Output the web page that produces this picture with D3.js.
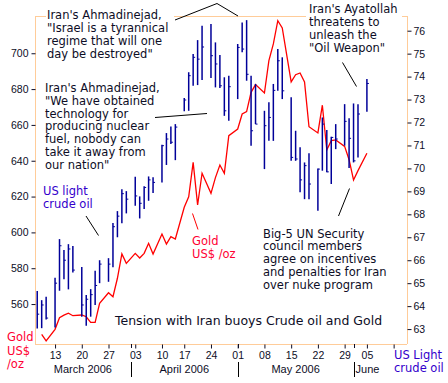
<!DOCTYPE html>
<html>
<head>
<meta charset="utf-8">
<script src="https://cdnjs.cloudflare.com/ajax/libs/d3/7.8.5/d3.min.js"></script>
<style>
  body { margin: 0; background: #fff; }
  svg { display: block; }
</style>
</head>
<body>
<div id="chart"></div>
<script>
// Trading days shown on the chart
const tradeDates = [
  '2006-03-08','2006-03-09','2006-03-10',
  '2006-03-13','2006-03-14','2006-03-15','2006-03-16','2006-03-17',
  '2006-03-20','2006-03-21','2006-03-22','2006-03-23','2006-03-24',
  '2006-03-27','2006-03-28','2006-03-29','2006-03-30','2006-03-31',
  '2006-04-03','2006-04-04','2006-04-05','2006-04-06','2006-04-07',
  '2006-04-10','2006-04-11','2006-04-12','2006-04-13',
  '2006-04-17','2006-04-18','2006-04-19','2006-04-20','2006-04-21',
  '2006-04-24','2006-04-25','2006-04-26','2006-04-27','2006-04-28',
  '2006-05-01','2006-05-02','2006-05-03','2006-05-04','2006-05-05',
  '2006-05-08','2006-05-09','2006-05-10','2006-05-11','2006-05-12',
  '2006-05-15','2006-05-16','2006-05-17','2006-05-18','2006-05-19',
  '2006-05-22','2006-05-23','2006-05-24','2006-05-25','2006-05-26',
  '2006-05-30','2006-05-31','2006-06-01','2006-06-02','2006-06-05'
];
const holidays = ['2006-04-14', '2006-05-29'];

// US light crude oil, high / low / close
const oilHigh = [64.66,64.26,64.41, 65.24,66.92,66.44,66.70,66.62, 65.71,64.48,64.74,65.54,66.00,
  66.09,67.62,68.14,69.09,69.01, 69.64,68.78,69.22,69.65,69.61, 71.03,71.54,71.83,71.93,
  73.07,74.19,74.98,75.59,76.22, 76.29,75.49,74.94,73.97,74.04, 75.42,76.36,76.46,74.04,73.68,
  72.51,72.88,73.68,75.20,74.84, 73.10,71.64,70.92,70.26,70.66, 70.00,72.22,71.67,71.38,71.93,
  72.80,72.19,72.83,72.80,73.89];
const oilLow = [63.03,63.04,63.42, 63.07,64.67,65.17,64.73,65.47, 63.54,63.14,63.54,64.05,65.00,
  65.06,65.69,67.00,67.61,68.04, 68.37,67.82,68.23,68.59,68.93, 69.39,70.15,71.06,70.36,
  72.49,72.51,73.60,73.63,73.85, 73.94,73.53,73.50,72.29,72.08, 73.02,75.06,73.82,70.99,71.93,
  69.97,71.20,71.20,73.38,73.02, 70.33,70.33,68.96,68.66,68.66, 68.15,69.90,69.83,69.32,70.84,
  70.99,70.02,70.26,70.48,72.47];
const oilClose = [63.65,64.05,63.48, 65.00,66.63,66.00,66.49,65.57, 64.05,64.30,64.50,64.90,65.83,
  65.83,67.46,67.92,68.90,68.66, 68.80,68.48,69.17,69.50,69.39, 70.99,71.28,71.14,71.80,
  72.98,74.04,74.84,74.76,75.29, 74.91,74.55,73.60,72.51,73.56, 75.27,75.20,74.10,71.64,71.93,
  71.86,72.22,73.40,74.69,73.38, 70.48,70.41,69.50,70.12,69.32, 69.97,71.93,69.85,71.35,71.28,
  72.05,71.31,70.33,72.37,73.70];

// Gold US$/oz, from 9 March
const goldDates = tradeDates.slice(1);
const goldPrice = [543.1,539.4, 545.9,552.4,553.8,554.9,553.5, 553.9,552.9,549.8,549.8,560.4,
  566.3,564.1,574.4,588.0,582.7, 588.3,585.7,588.3,593.9,587.9, 599.1,593.5,597.6,596.3,
  614.0,619.9,639.1,615.3,633.0, 621.8,630.6,637.6,633.0,654.0, 657.7,666.1,667.4,678.2,682.5,
  677.8,695.9,705.2,718.2,714.1, 684.0,688.0,689.0,684.0,659.0, 655.5,671.0,646.0,651.2,651.6,
  648.0,640.6,629.3,634.5,644.2];

const goldTicks = [560, 580, 600, 620, 640, 660, 680, 700];
const oilTicks = [63, 64, 65, 66, 67, 68, 69, 70, 71, 72, 73, 74, 75, 76];
const weekTicks = ['2006-03-13','2006-03-20','2006-03-27','2006-04-03','2006-04-10','2006-04-17',
  '2006-04-24','2006-05-01','2006-05-08','2006-05-15','2006-05-22','2006-05-29','2006-06-05','2006-06-12'];
const monthStarts = ['2006-04-01', '2006-05-01', '2006-06-01'];
const monthLabels = ['March 2006', 'April 2006', 'May 2006', 'June'];

const width = 448, height = 383;
const plotL = 35, plotR = 407, plotT = 16, plotB = 344;
const parse = d3.timeParse('%Y-%m-%d');
const fmt = d3.timeFormat('%Y-%m-%d');

// one slot per weekday plus one per Saturday, holidays dropped
const slotOf = {};
let n = 0;
for (let d = parse('2006-03-08'); d <= parse('2006-06-17'); d = d3.timeDay.offset(d, 1)) {
  const k = fmt(d);
  if (d.getDay() === 0 || holidays.includes(k)) continue;
  slotOf[k] = n++;
}
// a holiday Monday takes the next slot
const slot = k => {
  let d = parse(k);
  while (slotOf[fmt(d)] === undefined) d = d3.timeDay.offset(d, 1);
  return slotOf[fmt(d)];
};

const x = d3.scaleLinear().domain([-0.5, 83]).range([plotL, plotR]);
const yGold = d3.scaleLinear().domain([537.7, 720.8]).range([plotB, plotT]);
const yOil = d3.scaleLinear().domain([62.35, 76.64]).range([plotB, plotT]);

const svg = d3.select('#chart').append('svg')
  .attr('width', width)
  .attr('height', height)
  .style('font-family', 'DejaVu Sans, Verdana, sans-serif');

svg.append('rect').attr('width', width).attr('height', height).attr('fill', '#fff');

const frame = '#FFCC99';
const ink = '#0d0d26';

// top frame line
svg.append('line').attr('x1', plotL).attr('x2', plotR).attr('y1', plotT + 0.5).attr('y2', plotT + 0.5)
  .attr('stroke', frame);

// left axis (gold)
const axL = svg.append('g').attr('transform', `translate(${plotL + 0.5},0)`)
  .call(d3.axisLeft(yGold).tickValues(goldTicks).tickSize(4).tickPadding(3));
// right axis (oil)
const axR = svg.append('g').attr('transform', `translate(${plotR + 0.5},0)`)
  .call(d3.axisRight(yOil).tickValues(oilTicks).tickSize(4).tickPadding(2));
// bottom axis
const axB = svg.append('g').attr('transform', `translate(0,${plotB + 0.5})`)
  .call(d3.axisBottom(x)
    .tickValues(weekTicks.map(slot))
    .tickSize(4).tickPadding(3)
    .tickFormat((d, i) => weekTicks[i] === '2006-06-12' ? '' : d3.timeFormat('%d')(parse(weekTicks[i]))));

[axL, axR, axB].forEach(g => {
  g.select('.domain').attr('stroke', frame);
  g.selectAll('.tick line').attr('stroke', ink);
  g.selectAll('.tick text').attr('fill', ink)
    .style('font-family', 'Liberation Sans, Arial, sans-serif').style('font-size', '10.5px');
});
axL.select('.domain').attr('d', `M0,${plotT}V${plotB}`);
axR.select('.domain').attr('d', `M0,${plotT}V${plotB}`);
axB.select('.domain').attr('d', `M${plotL},0H${plotR}`);

// month separators on the axis and below it
monthStarts.forEach(k => {
  const px = Math.round(x(slot(k))) + 0.5;
  svg.append('line').attr('x1', px).attr('x2', px).attr('y1', plotB).attr('y2', plotB + 4).attr('stroke', ink);
  svg.append('line').attr('x1', px).attr('x2', px).attr('y1', 362).attr('y2', 377).attr('stroke', '#000');
});
const monthEdges = [plotL, ...monthStarts.map(k => x(slot(k))), plotR];
svg.append('g').selectAll('text').data(monthLabels).enter().append('text')
  .attr('x', (d, i) => i < 3 ? (monthEdges[i] + monthEdges[i + 1]) / 2 : monthEdges[i] + 2)
  .attr('y', 373)
  .attr('text-anchor', (d, i) => i < 3 ? 'middle' : 'start')
  .style('font-family', 'Liberation Sans, Arial, sans-serif')
  .style('font-size', '11px')
  .attr('fill', ink)
  .text(d => d);

// annotation blocks (white boxes hide the frame behind them)
function block(lines, x0, y0, step, color, box) {
  if (box) {
    svg.append('rect').attr('x', box[0]).attr('y', box[1]).attr('width', box[2]).attr('height', box[3])
      .attr('fill', '#fff');
  }
  const t = svg.append('text').attr('fill', color).style('font-size', '11.5px');
  lines.forEach((s, i) => t.append('tspan').attr('x', x0).attr('y', y0 + i * step).text(s));
}
block(["Iran's Ahmadinejad,", '"Israel is a tyrannical', 'regime that will one', 'day be destroyed"'],
  47, 19, 13, ink, [46, 8, 128, 54]);
block(["Iran's Ahmadinejad,", '"We have obtained', 'technology for', 'producing nuclear',
  'fuel, nobody can', 'take it away from', 'our nation"'], 45, 92, 12.8, ink);
block(['US light', 'crude oil'], 43, 195, 13.3, '#3300CC');
block(['Gold', 'US$ /oz'], 192, 245, 12.5, '#FF0033');
block(['Big-5 UN Security', 'council members', 'agree on incentives', 'and penalties for Iran',
  'over nuke program'], 263, 237.5, 12.9, ink);
block(["Iran's Ayatollah", 'threatens to', 'unleash the', '"Oil Weapon"'],
  309, 12.5, 13, ink, [306, 0, 96, 56]);
block(['Gold', 'US$', '/oz'], 7, 341, 13.7, '#FF0033');
block(['US Light', 'crude oil'], 394, 358.5, 13, '#3300CC');

svg.append('text').attr('x', 115).attr('y', 325)
  .style('font-size', '12.5px').attr('fill', ink)
  .text('Tension with Iran buoys Crude oil and Gold');

// callout lines
const callouts = [
  { pts: [[175, 20], [217, 3.5], [238, 16]], c: '#000' },
  { pts: [[155, 117.5], [207, 113.5]], c: '#000' },
  { pts: [[86, 216], [98.5, 235.5]], c: '#000' },
  { pts: [[192.5, 213.5], [198, 229.5]], c: '#FF0000' },
  { pts: [[338.5, 216], [349.5, 188.5]], c: '#000' },
  { pts: [[342.5, 62.5], [356.5, 86.5]], c: '#000' }
];
svg.append('g').selectAll('path').data(callouts).enter().append('path')
  .attr('d', d => d3.line()(d.pts))
  .attr('fill', 'none')
  .attr('stroke', d => d.c)
  .attr('stroke-width', 1);

// gold line
const goldData = goldDates.map((k, i) => ({ k, v: goldPrice[i] }));
svg.append('path')
  .datum(goldData)
  .attr('d', d3.line().x(d => x(slot(d.k))).y(d => yGold(d.v)))
  .attr('fill', 'none')
  .attr('stroke', '#FF0000')
  .attr('stroke-width', 1.3);

// oil high-low bars with close tick
const oil = tradeDates.map((k, i) => ({ k, hi: oilHigh[i], lo: oilLow[i], c: oilClose[i] }));
const bars = svg.append('g').attr('stroke', '#000099').attr('stroke-width', 1.5);
bars.selectAll('.hl').data(oil).enter().append('line')
  .attr('x1', d => x(slot(d.k))).attr('x2', d => x(slot(d.k)))
  .attr('y1', d => yOil(d.hi)).attr('y2', d => yOil(d.lo));
bars.selectAll('.cl').data(oil).enter().append('line')
  .attr('stroke-width', 1)
  .attr('x1', d => x(slot(d.k))).attr('x2', d => x(slot(d.k)) + 2)
  .attr('y1', d => yOil(d.c)).attr('y2', d => yOil(d.c));
</script>
</body>
</html>
